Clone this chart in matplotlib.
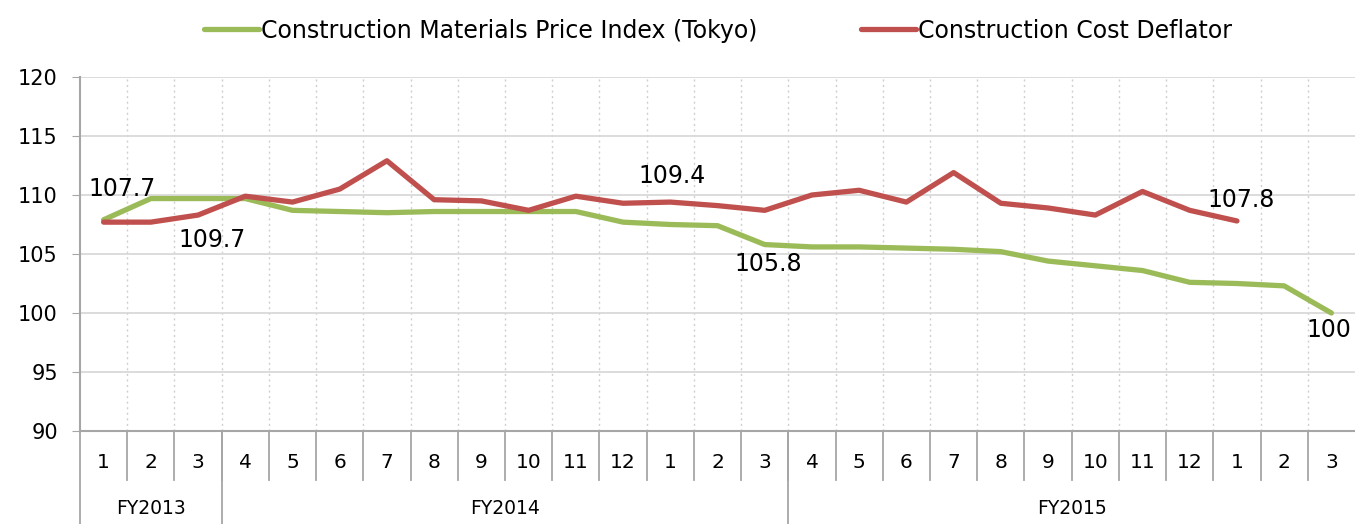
import matplotlib.pyplot as plt
from matplotlib.transforms import blended_transform_factory

months = ["1", "2", "3", "4", "5", "6", "7", "8", "9", "10", "11", "12", "1", "2", "3",
          "4", "5", "6", "7", "8", "9", "10", "11", "12", "1", "2", "3"]
years = ["FY2013", "FY2014", "FY2015"]
year_bounds = [(0, 3), (3, 15), (15, 27)]

materials = [107.9, 109.7, 109.7, 109.7, 108.7, 108.6, 108.5, 108.6, 108.6, 108.6, 108.6, 107.7,
             107.5, 107.4, 105.8, 105.6, 105.6, 105.5, 105.4, 105.2, 104.4, 104.0, 103.6, 102.6,
             102.5, 102.3, 100.0]
deflator = [107.7, 107.7, 108.3, 109.9, 109.4, 110.5, 112.9, 109.6, 109.5, 108.7, 109.9, 109.3,
            109.4, 109.1, 108.7, 110.0, 110.4, 109.4, 111.9, 109.3, 108.9, 108.3, 110.3, 108.7,
            107.8]

# (series, index, text, dx px, dy px)
labels = [("d", 0, "107.7", 18, 33), ("m", 2, "109.7", 14, -41), ("d", 12, "109.4", 2, 26),
          ("m", 14, "105.8", 4, -19), ("d", 24, "107.8", 4, 21), ("m", 26, "100", -3, -17)]

green = "#9BBB59"
red = "#C0504D"
grid_c = "#D9D9D9"
axis_c = "#A6A6A6"

fig = plt.figure(figsize=(13.55, 5.24), dpi=100)
ax = fig.add_axes([80 / 1355, 1 - 431 / 524, 1275 / 1355, 354 / 524])

ax.plot(range(len(materials)), materials, color=green, lw=3.8, solid_capstyle="round",
        label="Construction Materials Price Index (Tokyo)")
ax.plot(range(len(deflator)), deflator, color=red, lw=3.8, solid_capstyle="round",
        label="Construction Cost Deflator")

for s, i, txt, dx, dy in labels:
    v = materials[i] if s == "m" else deflator[i]
    ax.annotate(txt, (i, v), xytext=(dx, dy), textcoords="offset pixels",
                ha="center", va="center", fontsize=17)

ax.set_xlim(-0.5, len(months) - 0.5)
ax.set_ylim(90, 120)
ax.set_yticks(range(90, 121, 5))
ax.tick_params(axis="y", labelsize=15, length=6, color=axis_c, pad=10)
ax.set_xticks([])
ax.set_xticks([i + 0.5 for i in range(len(months) - 1)], minor=True)
ax.tick_params(axis="x", which="minor", length=0)
ax.grid(axis="y", color=grid_c, lw=1.3)
ax.grid(axis="x", which="minor", color="#CFCFCF", lw=1, ls=(0, (1.5, 2.5)))
ax.set_axisbelow(True)
for sp in ["top", "right"]:
    ax.spines[sp].set_visible(False)
ax.spines["left"].set_color(axis_c)
ax.spines["bottom"].set_color(axis_c)
ax.spines["left"].set_linewidth(1.5)
ax.spines["bottom"].set_linewidth(1.5)

tr = blended_transform_factory(ax.transData, ax.transAxes)
for i, m in enumerate(months):
    ax.text(i, -0.088, m, transform=tr, ha="center", va="center", fontsize=14.5)
for i in range(1, len(months)):
    ax.plot([i - 0.5, i - 0.5], [0, -0.138], transform=tr, color=axis_c, lw=1.3, clip_on=False)
for name, (a, b) in zip(years, year_bounds):
    ax.text((a + b - 1) / 2, -0.218, name, transform=tr, ha="center", va="center", fontsize=13.5)
    ax.plot([a - 0.5, a - 0.5], [0, -0.27], transform=tr, color=axis_c, lw=1.3, clip_on=False)

fig.legend(loc="upper center", bbox_to_anchor=(0.53, 1.005), ncol=2, frameon=False,
           fontsize=17, handlelength=2.3, handletextpad=0.1, columnspacing=4.4)

fig.savefig("out.png", dpi=100)
